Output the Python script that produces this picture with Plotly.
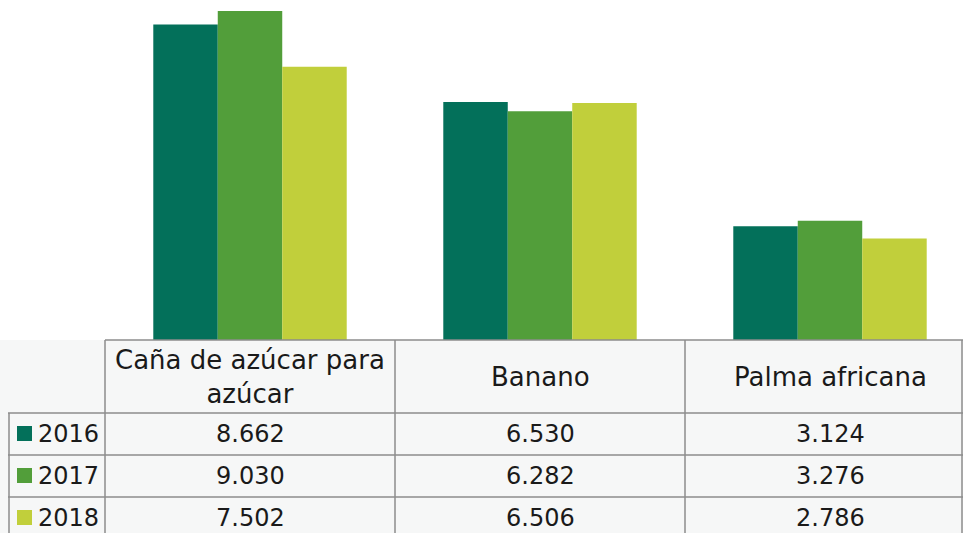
import plotly.graph_objects as go

categories = ["Caña de azúcar para<br>azúcar", "Banano", "Palma africana"]
years = ["2016", "2017", "2018"]
v2016 = [8.662, 6.530, 3.124]
v2017 = [9.030, 6.282, 3.276]
v2018 = [7.502, 6.506, 2.786]
colors = ["#03705A", "#529E3A", "#C1CF3B"]

series = [v2016, v2017, v2018]
W, H = 963, 533
FONT = "DejaVu Sans"

def py(y):
    return 1 - y / H

def px(x):
    return x / W

fig = go.Figure()
xs = list(range(len(categories)))
for yr, vals, c in zip(years, series, colors):
    fig.add_trace(go.Bar(x=xs, y=vals, name=yr, marker=dict(color=c, line=dict(width=0)),
                         showlegend=False, hoverinfo="y"))

x_left = 105
colw = 290
scale = 36.43
fig.update_layout(
    width=W, height=H, margin=dict(l=0, r=0, t=0, b=0),
    paper_bgcolor="white", plot_bgcolor="rgba(0,0,0,0)",
    barmode="group", bargap=0.333, bargroupgap=0,
    xaxis=dict(domain=[px(x_left), 1], range=[-0.5, -0.5 + (W - x_left) / colw],
               showticklabels=False, showgrid=False, zeroline=False, showline=False),
    yaxis=dict(domain=[py(340), 1], range=[0, 340 / scale],
               showticklabels=False, showgrid=False, zeroline=False, showline=False),
    font=dict(family=FONT, color="#1a1a1a"),
)

shapes = []
# faint background haze in table area
shapes.append(dict(type="rect", xref="paper", yref="paper", x0=0, x1=1, y0=0, y1=py(340),
                   fillcolor="rgba(236,238,238,0.45)", line=dict(width=0), layer="below"))

lc = "#8c8c8c"
def hline(y, x0, x1):
    shapes.append(dict(type="line", xref="paper", yref="paper", x0=px(x0), x1=px(x1),
                       y0=py(y), y1=py(y), line=dict(color=lc, width=1.5)))
def vline(x, y0, y1):
    shapes.append(dict(type="line", xref="paper", yref="paper", x0=px(x), x1=px(x),
                       y0=py(y0), y1=py(y1), line=dict(color=lc, width=1.5)))

hline(340, 105, 963)
for y in [413, 455, 497]:
    hline(y, 8, 963)
for x in [105, 395, 685, 962]:
    vline(x, 340, 540)
vline(9, 413, 540)

annotations = []
for i, cat in enumerate(categories):
    annotations.append(dict(x=i, xref="x", y=py(377), yref="paper", text=cat, showarrow=False,
                            font=dict(size=26, family=FONT, color="#1a1a1a"),
                            xanchor="center", yanchor="middle"))
row_centers = [434, 476, 518]
for r, (yr, vals, c) in enumerate(zip(years, series, colors)):
    yc = row_centers[r]
    shapes.append(dict(type="rect", xref="paper", yref="paper", x0=px(17), x1=px(32),
                       y0=py(yc + 7), y1=py(yc - 8), fillcolor=c, line=dict(width=0)))
    annotations.append(dict(x=px(36), xref="paper", y=py(yc), yref="paper", text=yr, showarrow=False,
                            font=dict(size=24, family=FONT, color="#1a1a1a"),
                            xanchor="left", yanchor="middle"))
    for i, v in enumerate(vals):
        annotations.append(dict(x=i, xref="x", y=py(yc), yref="paper", text=f"{v:.3f}",
                                showarrow=False, font=dict(size=24, family=FONT, color="#1a1a1a"),
                                xanchor="center", yanchor="middle"))

fig.update_layout(shapes=shapes, annotations=annotations)
fig.write_html("out.html", config={"displayModeBar": False},
               post_script="document.body.style.margin='0';document.body.style.overflow='hidden';")
